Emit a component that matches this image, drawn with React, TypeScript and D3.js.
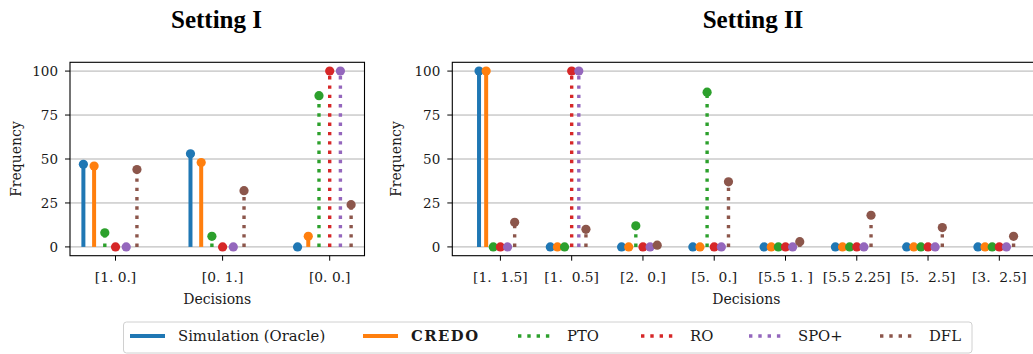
import React, { useRef, useEffect } from "react";
import * as d3 from "d3";

// Setting I
const categoriesI = ["[1. 0.]", "[0. 1.]", "[0. 0.]"];
const simulationI = [47, 53, 0];
const credoI = [46, 48, 6];
const ptoI = [8, 6, 86];
const roI = [0, 0, 100];
const spoI = [0, 0, 100];
const dflI = [44, 32, 24];

// Setting II
const categoriesII = [
  "[1.  1.5]",
  "[1.  0.5]",
  "[2.  0.]",
  "[5.  0.]",
  "[5.5 1. ]",
  "[5.5 2.25]",
  "[5.  2.5]",
  "[3.  2.5]",
];
const simulationII = [100, 0, 0, 0, 0, 0, 0, 0];
const credoII = [100, 0, 0, 0, 0, 0, 0, 0];
const ptoII = [0, 0, 12, 88, 0, 0, 0, 0];
const roII = [0, 100, 0, 0, 0, 0, 0, 0];
const spoII = [0, 100, 0, 0, 0, 0, 0, 0];
const dflII = [14, 10, 1, 37, 3, 18, 11, 6];

const seriesNames = ["Simulation (Oracle)", "CREDO", "PTO", "RO", "SPO+", "DFL"];
const seriesColors = ["#1f77b4", "#ff7f0e", "#2ca02c", "#d62728", "#9467bd", "#8c564b"];
const seriesDotted = [false, false, true, true, true, true];
const yTicks = [0, 25, 50, 75, 100];

const FONT = "'DejaVu Serif', serif";
const TITLE_FONT = "'Liberation Serif', 'Times New Roman', serif";

type Panel = {
  title: string;
  titleX: number;
  categories: string[];
  series: number[][];
  left: number;
  right: number;
  ylabelX: number;
};

function drawPanel(svg: d3.Selection<SVGSVGElement, unknown, null, undefined>, p: Panel) {
  const top = 62.3;
  const bottom = 255.7;
  const n = p.categories.length;
  const offsets = seriesNames.map((_, i) => (i - 3) * 0.1);

  // matplotlib-style 5% margins around the stem positions
  const lo = d3.min(offsets)!;
  const hi = n - 1 + d3.max(offsets)!;
  const pad = (hi - lo) * 0.05;
  const x = d3.scaleLinear().domain([lo - pad, hi + pad]).range([p.left, p.right]);
  const y = d3.scaleLinear().domain([-5, 105]).range([bottom, top]);

  const g = svg.append("g");

  // grid
  g.selectAll(".grid")
    .data(yTicks)
    .enter()
    .append("line")
    .attr("x1", p.left)
    .attr("x2", p.right)
    .attr("y1", (d) => y(d))
    .attr("y2", (d) => y(d))
    .attr("stroke", "#b0b0b0")
    .attr("stroke-width", 1);

  // stems
  p.series.forEach((vals, si) => {
    const sg = g.append("g");
    sg.selectAll("line")
      .data(vals.map((v, ci) => ({ v, ci })).filter((d) => d.v > 0))
      .enter()
      .append("line")
      .attr("x1", (d) => x(d.ci + offsets[si]))
      .attr("x2", (d) => x(d.ci + offsets[si]))
      .attr("y1", y(0))
      .attr("y2", (d) => y(d.v))
      .attr("stroke", seriesColors[si])
      .attr("stroke-width", seriesDotted[si] ? 3.4 : 4)
      .attr("stroke-dasharray", seriesDotted[si] ? "3.4 5.9" : null);
    sg.selectAll("circle")
      .data(vals)
      .enter()
      .append("circle")
      .attr("cx", (_, ci) => x(ci + offsets[si]))
      .attr("cy", (d) => y(d))
      .attr("r", 4.6)
      .attr("fill", seriesColors[si]);
  });

  // spines
  g.append("rect")
    .attr("x", p.left)
    .attr("y", top)
    .attr("width", p.right - p.left)
    .attr("height", bottom - top)
    .attr("fill", "none")
    .attr("stroke", "#000")
    .attr("stroke-width", 1.1);

  // y axis
  yTicks.forEach((t) => {
    g.append("line")
      .attr("x1", p.left - 5)
      .attr("x2", p.left)
      .attr("y1", y(t))
      .attr("y2", y(t))
      .attr("stroke", "#000");
    g.append("text")
      .attr("x", p.left - 12)
      .attr("y", y(t))
      .attr("dy", "0.35em")
      .attr("text-anchor", "end")
      .attr("font-family", FONT)
      .attr("font-size", 13.5)
      .attr("fill", "#1a1a1a")
      .text(t);
  });

  // x axis
  p.categories.forEach((c, ci) => {
    g.append("line")
      .attr("x1", x(ci))
      .attr("x2", x(ci))
      .attr("y1", bottom)
      .attr("y2", bottom + 5)
      .attr("stroke", "#000");
    g.append("text")
      .attr("x", x(ci))
      .attr("y", 282)
      .attr("text-anchor", "middle")
      .attr("font-family", FONT)
      .attr("font-size", 13.8)
      .attr("fill", "#1a1a1a")
      .style("white-space", "pre")
      .text(c);
  });

  g.append("text")
    .attr("x", (p.left + p.right) / 2)
    .attr("y", 304)
    .attr("text-anchor", "middle")
    .attr("font-family", FONT)
    .attr("font-size", 14)
    .attr("fill", "#1a1a1a")
    .text("Decisions");

  g.append("text")
    .attr("transform", `translate(${p.ylabelX}, ${(top + bottom) / 2}) rotate(-90)`)
    .attr("text-anchor", "middle")
    .attr("font-family", FONT)
    .attr("font-size", 14)
    .attr("fill", "#1a1a1a")
    .text("Frequency");

  g.append("text")
    .attr("x", p.titleX)
    .attr("y", 28)
    .attr("text-anchor", "middle")
    .attr("font-family", TITLE_FONT)
    .attr("font-weight", "bold")
    .attr("font-size", 25)
    .text(p.title);
}

function drawLegend(svg: d3.Selection<SVGSVGElement, unknown, null, undefined>) {
  const handleX = [130, 363, 518, 641, 749, 880];
  const cy = 336;
  const lg = svg.append("g");
  lg.append("rect")
    .attr("x", 123.5)
    .attr("y", 322)
    .attr("width", 848.5)
    .attr("height", 31)
    .attr("rx", 3)
    .attr("fill", "#fff")
    .attr("stroke", "#d0d0d0")
    .attr("stroke-width", 1);
  seriesNames.forEach((name, i) => {
    lg.append("line")
      .attr("x1", handleX[i])
      .attr("x2", handleX[i] + 35)
      .attr("y1", cy)
      .attr("y2", cy)
      .attr("stroke", seriesColors[i])
      .attr("stroke-width", seriesDotted[i] ? 3.4 : 4)
      .attr("stroke-dasharray", seriesDotted[i] ? "3.4 5.9" : null);
    lg.append("text")
      .attr("x", handleX[i] + (seriesDotted[i] ? 49 : 48))
      .attr("y", cy + 5)
      .attr("font-family", FONT)
      .attr("font-size", 14.8)
      .attr("font-weight", i === 1 ? "bold" : "normal")
      .attr("letter-spacing", i === 1 ? 1.5 : 0)
      .attr("fill", "#1a1a1a")
      .text(name);
  });
}

export default function App() {
  const svgRef = useRef<SVGSVGElement>(null);

  useEffect(() => {
    const svg = d3.select(svgRef.current!);
    svg.selectAll("*").remove();

    drawPanel(svg, {
      title: "Setting I",
      titleX: 216.5,
      categories: categoriesI,
      series: [simulationI, credoI, ptoI, roI, spoI, dflI],
      left: 70,
      right: 364.5,
      ylabelX: 21,
    });
    drawPanel(svg, {
      title: "Setting II",
      titleX: 753,
      categories: categoriesII,
      series: [simulationII, credoII, ptoII, roII, spoII, dflII],
      left: 452.3,
      right: 1040.3,
      ylabelX: 401,
    });
    drawLegend(svg);
  }, []);

  return (
    <>
      <style>{"body{margin:0}"}</style>
      <svg ref={svgRef} width={1033} height={354} style={{ display: "block", background: "#fff" }} />
    </>
  );
}
